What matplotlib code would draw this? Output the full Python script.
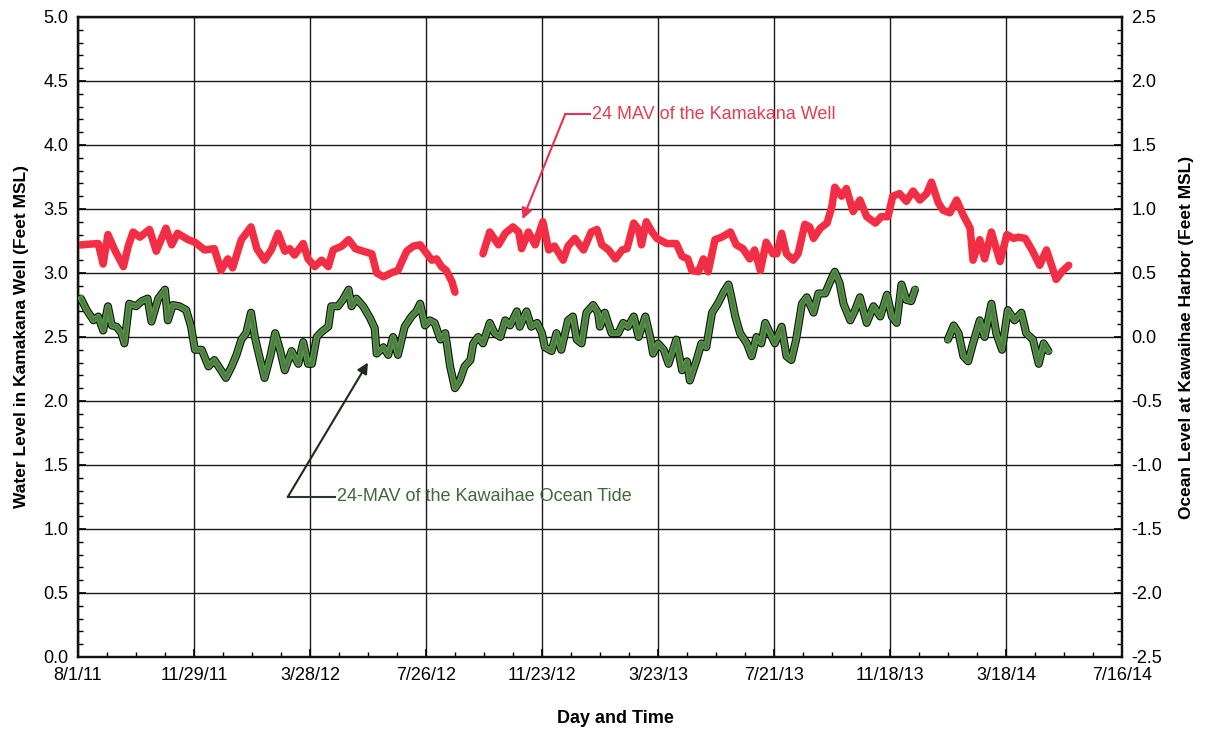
import numpy as np
import pandas as pd
import matplotlib
matplotlib.use("Agg")
import matplotlib.pyplot as plt
from matplotlib.ticker import MultipleLocator, FixedLocator, FormatStrFormatter

plt.rcParams['font.family'] = ['Liberation Sans', 'DejaVu Sans']

START = pd.Timestamp('2011-08-01')

# 24-hr moving average, Kamakana well (days since 8/1/11, feet MSL)
well_days_a = [3, 21, 26, 31, 38, 47, 52, 57, 64, 74, 81, 91, 97, 103, 114, 121, 131, 141,
               148, 155, 160, 169, 179, 185, 193, 200, 207, 214, 219, 224, 233, 238, 245,
               252, 259, 264, 273, 280, 287, 295, 304, 309, 316, 324, 331, 340, 347, 354,
               359, 366, 371, 376, 381, 387, 390]
well_level_a = [3.22, 3.23, 3.07, 3.30, 3.18, 3.05, 3.21, 3.32, 3.28, 3.34, 3.17, 3.35, 3.22,
                3.31, 3.26, 3.24, 3.18, 3.19, 3.02, 3.11, 3.04, 3.26, 3.36, 3.19, 3.10, 3.18,
                3.31, 3.17, 3.19, 3.14, 3.23, 3.11, 3.05, 3.10, 3.05, 3.18, 3.21, 3.26, 3.19,
                3.17, 3.15, 3.00, 2.97, 3.00, 3.02, 3.17, 3.21, 3.22, 3.17, 3.10, 3.11, 3.05,
                3.02, 2.93, 2.85]
well_days_b = [419, 426, 435, 442, 450, 456, 459, 466, 473, 481, 487, 493, 502, 507, 514, 523,
               531, 537, 542, 549, 556, 563, 568, 575, 580, 583, 588, 594, 599, 609, 619, 625,
               631, 635, 642, 647, 652, 659, 666, 675, 681, 688, 695, 700, 706, 712, 719, 723,
               728, 733, 740, 745, 752, 757, 761, 768, 775, 780, 783, 790, 795, 802, 809, 816,
               825, 831, 838, 843, 850, 857, 864, 871, 878, 883, 890, 895, 902, 909, 916, 923,
               926, 933, 938, 945, 954, 961, 968, 973, 980, 987, 995, 1002, 1009, 1012, 1018,
               1025]
well_level_b = [3.15, 3.32, 3.22, 3.31, 3.36, 3.32, 3.19, 3.32, 3.22, 3.40, 3.18, 3.21, 3.10,
                3.21, 3.27, 3.18, 3.32, 3.34, 3.22, 3.18, 3.11, 3.18, 3.19, 3.39, 3.34, 3.22,
                3.40, 3.32, 3.27, 3.23, 3.23, 3.13, 3.11, 3.02, 3.01, 3.11, 3.01, 3.26, 3.28,
                3.32, 3.22, 3.19, 3.11, 3.18, 3.02, 3.24, 3.15, 3.15, 3.31, 3.15, 3.10, 3.15,
                3.38, 3.36, 3.27, 3.35, 3.39, 3.52, 3.67, 3.60, 3.66, 3.48, 3.57, 3.44, 3.39,
                3.44, 3.44, 3.60, 3.62, 3.56, 3.64, 3.57, 3.62, 3.71, 3.55, 3.49, 3.47, 3.57,
                3.45, 3.35, 3.10, 3.26, 3.11, 3.32, 3.09, 3.30, 3.27, 3.28, 3.27, 3.18, 3.06,
                3.18, 3.02, 2.95, 3.01, 3.06]

# 24-hr moving average, Kawaihae ocean tide (days since 8/1/11, feet MSL)
tide_days_a = [3, 9, 16, 21, 26, 31, 35, 40, 45, 48, 53, 60, 66, 72, 76, 83, 90, 93, 98, 105,
               112, 117, 121, 128, 135, 141, 148, 153, 159, 164, 169, 174, 179, 183, 186, 193,
               199, 204, 209, 214, 221, 228, 233, 238, 242, 247, 252, 259, 262, 269, 274, 280,
               283, 288, 295, 302, 307, 309, 316, 321, 326, 331, 338, 345, 350, 354, 359, 364,
               369, 375, 380, 385, 390, 395, 400, 406, 409, 414, 419, 426, 431, 437, 442, 447,
               454, 457, 464, 469, 475, 480, 483, 490, 495, 500, 507, 512, 516, 521, 526, 533,
               538, 540, 545, 552, 559, 564, 569, 575, 580, 587, 592, 595, 600, 606, 611, 619,
               625, 630, 633, 640, 645, 650, 656, 662, 668, 673, 676, 680, 685, 692, 697, 702,
               707, 711, 716, 721, 728, 733, 738, 743, 749, 754, 761, 766, 773, 778, 783, 788,
               792, 799, 804, 809, 816, 823, 830, 837, 842, 847, 852, 857, 862, 866]
tide_level_a = [0.30, 0.21, 0.13, 0.16, 0.05, 0.24, 0.09, 0.08, 0.03, -0.05, 0.26, 0.24, 0.28,
                0.30, 0.12, 0.30, 0.37, 0.13, 0.25, 0.24, 0.21, 0.08, -0.10, -0.10, -0.23,
                -0.18, -0.26, -0.32, -0.23, -0.14, -0.02, 0.03, 0.19, 0.00, -0.10, -0.32,
                -0.15, 0.03, -0.10, -0.26, -0.11, -0.21, -0.04, -0.21, -0.21, 0.00, 0.04,
                0.08, 0.24, 0.24, 0.29, 0.37, 0.24, 0.30, 0.24, 0.15, 0.07, -0.13, -0.08,
                -0.14, 0.00, -0.14, 0.08, 0.16, 0.20, 0.26, 0.09, 0.13, 0.11, -0.02, 0.03,
                -0.23, -0.40, -0.34, -0.23, -0.18, -0.05, 0.00, -0.05, 0.11, 0.03, 0.00, 0.13,
                0.09, 0.20, 0.08, 0.20, 0.08, 0.11, 0.03, -0.08, -0.11, 0.03, -0.10, 0.13,
                0.16, -0.02, -0.05, 0.19, 0.25, 0.19, 0.08, 0.19, 0.03, 0.03, 0.11, 0.08, 0.16,
                0.00, 0.16, 0.00, -0.13, -0.05, -0.10, -0.21, -0.02, -0.26, -0.19, -0.34,
                -0.18, -0.05, -0.08, 0.19, 0.26, 0.35, 0.41, 0.31, 0.16, 0.03, -0.05, -0.15,
                0.00, -0.05, 0.11, 0.03, -0.05, 0.08, -0.15, -0.18, -0.02, 0.26, 0.31, 0.19,
                0.34, 0.34, 0.43, 0.51, 0.42, 0.26, 0.13, 0.21, 0.31, 0.11, 0.24, 0.16, 0.33,
                0.16, 0.11, 0.41, 0.29, 0.28, 0.37]
tide_days_b = [900, 906, 911, 916, 921, 926, 933, 938, 945, 950, 956, 962, 969, 976, 981, 988,
               994, 999, 1004]
tide_level_b = [-0.02, 0.09, 0.03, -0.15, -0.19, -0.05, 0.13, 0.00, 0.26, 0.03, -0.10, 0.21,
                0.13, 0.19, 0.03, -0.02, -0.21, -0.05, -0.11]

tick_days = list(range(0, 1081, 120))
tick_labels = [f"{d.month}/{d.day}/{d.strftime('%y')}"
               for d in (START + pd.to_timedelta(tick_days, unit='D'))]

fig = plt.figure(figsize=(12.11, 7.29), dpi=100)
ax = fig.add_axes([0.0644, 0.0988, 0.862, 0.8779])
ax2 = ax.twinx()

ax.set_xlim(0, 1080)
ax.set_ylim(0, 5)
ax2.set_ylim(-2.5, 2.5)

ax.grid(True, which='major', color='#1a1a1a', linewidth=1.0)
ax.set_axisbelow(True)

for days, level in [(well_days_a, well_level_a), (well_days_b, well_level_b)]:
    ax.plot(days, level, color='#ff2a36', lw=5.4, solid_capstyle='round', zorder=3)
    ax.plot(days, level, color='#dc3463', lw=1.8, alpha=0.8, zorder=4)

for days, level in [(tide_days_a, tide_level_a), (tide_days_b, tide_level_b)]:
    ax2.plot(days, level, color='#111111', lw=5.8, solid_capstyle='round', zorder=3)
    ax2.plot(days, level, color='#4f9a3a', lw=4.2, zorder=4)
    ax2.plot(days, level, color='#52764c', lw=2.0, alpha=0.9, zorder=5)

ax.xaxis.set_major_locator(FixedLocator(tick_days))
ax.xaxis.set_minor_locator(MultipleLocator(30))
ax.set_xticklabels(tick_labels, family=['Liberation Sans Narrow', 'Liberation Sans'],
                   fontsize=13)
ax.yaxis.set_major_locator(MultipleLocator(0.5))
ax.yaxis.set_minor_locator(MultipleLocator(0.1))
ax.yaxis.set_major_formatter(FormatStrFormatter('%.1f'))
ax2.yaxis.set_major_locator(MultipleLocator(0.5))
ax2.yaxis.set_minor_locator(MultipleLocator(0.1))
ax2.yaxis.set_major_formatter(FormatStrFormatter('%.1f'))

ax.tick_params(axis='both', which='both', direction='in', top=False)
ax.tick_params(axis='both', which='major', length=6, width=1.2, labelsize=13, pad=7)
ax.tick_params(axis='both', which='minor', length=3.5, width=1.0)
ax2.tick_params(axis='y', which='both', direction='in')
ax2.tick_params(axis='y', which='major', length=6, width=1.2, labelsize=13, pad=7)
ax2.tick_params(axis='y', which='minor', length=3.5, width=1.0)

for a in (ax, ax2):
    for s in a.spines.values():
        s.set_linewidth(1.6)
        s.set_color('#111111')

ax.set_ylabel('Water Level in Kamakana Well (Feet MSL)', fontsize=12.5,
              fontweight='bold', labelpad=10)
ax2.set_ylabel('Ocean Level at Kawaihae Harbor (Feet MSL)', fontsize=12.5,
               fontweight='bold', labelpad=12)
ax.set_xlabel('Day and Time', fontsize=13, fontweight='bold',
              family=['Liberation Sans Narrow', 'Liberation Sans'], labelpad=20)
ax.xaxis.set_label_coords(0.515, -0.083)

# leader for the well series
ax.plot([504, 530], [4.24, 4.24], color='#ee3050', lw=1.5, zorder=6)
ax.annotate('', xy=(460, 3.42), xytext=(504, 4.24),
            arrowprops=dict(arrowstyle='-|>', color='#ee3050', lw=1.5,
                            mutation_scale=16, shrinkA=0, shrinkB=0), zorder=6)
ax.text(532, 4.24, '24 MAV of the Kamakana Well', color='#f03a50', fontsize=13,
        va='center', ha='left', zorder=6)

# leader for the tide series
ax2.plot([217, 266], [-1.25, -1.25], color='#2a3a2a', lw=1.5, zorder=6)
ax2.annotate('', xy=(300, -0.2), xytext=(217, -1.25),
             arrowprops=dict(arrowstyle='-|>', color='#1e2a1e', lw=1.5,
                             mutation_scale=16, shrinkA=0, shrinkB=0), zorder=6)
ax2.text(268, -1.25, '24-MAV of the Kawaihae Ocean Tide', color='#3e6a38', fontsize=13,
         va='center', ha='left', zorder=6)

fig.savefig('out.png', dpi=100)
